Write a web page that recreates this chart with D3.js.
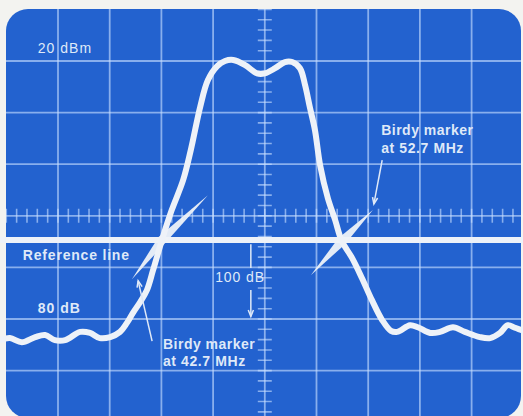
<!DOCTYPE html>
<html><head><meta charset="utf-8">
<script src="https://cdn.jsdelivr.net/npm/d3@7/dist/d3.min.js"></script>
<style>
html,body{margin:0;padding:0;background:#f3f3f0;}
svg{display:block;}
text{font-family:"Liberation Sans",Arial,sans-serif;fill:#dfe9f8;}
</style></head><body>
<svg id="c" width="523" height="416"></svg>
<script>
// Trace in screen divisions (x: 0..10 horizontal, y: 0..8 from top)
const traceX = [-0.12,0.07,0.30,0.56,0.75,0.94,1.14,1.43,1.62,1.81,2.01,2.20,2.33,2.45,2.59,2.72,2.84,3.01,3.20,3.42,3.57,3.75,3.90,4.08,4.23,4.39,4.62,4.85,5.00,5.20,5.39,5.53,5.68,5.78,5.87,5.97,6.07,6.22,6.36,6.49,6.69,6.88,7.07,7.27,7.44,7.56,7.81,7.96,8.20,8.39,8.64,8.87,9.16,9.36,9.55,9.70,9.84,10.05];
const traceY = [6.41,6.37,6.45,6.35,6.31,6.41,6.41,6.25,6.27,6.37,6.35,6.25,6.08,5.88,5.67,5.44,5.05,4.47,3.89,3.31,2.72,1.89,1.37,1.10,1.00,0.98,1.08,1.24,1.24,1.14,1.02,1.02,1.14,1.47,1.89,2.34,3.02,3.66,4.08,4.49,4.82,5.21,5.63,6.02,6.23,6.25,6.12,6.16,6.27,6.25,6.16,6.25,6.35,6.37,6.27,6.12,6.17,6.25];
// Reference line level (divisions)
const refLevel = 4.47;
// Birdy marker spikes: [x1,y1, xc,yc, x2,y2]
const birdies = [[2.43,5.23, 3.01,4.47, 3.90,3.60],[5.89,5.15, 6.49,4.49, 7.09,3.89]];
// Annotation arrows: [xFrom,yFrom,xTo,yTo]
const arrows = [[7.27,2.92, 7.11,3.77],[2.82,6.43, 2.55,5.26],[4.73,5.44, 4.73,5.95]];
const plainLines = [[4.73,4.55, 4.73,5.01]];
// Labels: [text, x, y(baseline), weight, spacing]
const labels = [
  ["20 dBm", 0.61, 0.84, "normal", 1],
  ["Reference line", 0.32, 4.86, "bold", 0.8],
  ["80 dB", 0.61, 5.88, "bold", 1],
  ["100 dB", 4.04, 5.28, "normal", 0.9],
  ["Birdy marker", 7.25, 2.43, "bold", 0.5],
  ["at 52.7 MHz", 7.25, 2.78, "bold", 0.6],
  ["Birdy marker", 3.03, 6.58, "bold", 0.5],
  ["at 42.7 MHz", 3.03, 6.91, "bold", 0.6]
];

const svg = d3.select("#c");
const x = d3.scaleLinear().domain([0,10]).range([6.3, 523.3]);
const y = d3.scaleLinear().domain([0,8]).range([9.4, 422.2]);

const defs = svg.append("defs");
defs.append("clipPath").attr("id","scr").append("rect")
  .attr("x",6).attr("y",9).attr("width",515).attr("height",409).attr("rx",22);

svg.append("rect").attr("x",6).attr("y",9).attr("width",515).attr("height",409).attr("rx",22)
  .attr("fill","#2362cf");

const g = svg.append("g").attr("clip-path","url(#scr)");
const gridCol = "rgba(200,222,255,0.62)";
g.selectAll(".vg").data(d3.range(1,10)).join("line")
  .attr("x1",d=>x(d)).attr("x2",d=>x(d)).attr("y1",0).attr("y2",416)
  .attr("stroke",gridCol).attr("stroke-width",1.8);
g.selectAll(".hg").data(d3.range(1,8)).join("line")
  .attr("y1",d=>y(d)).attr("y2",d=>y(d)).attr("x1",0).attr("x2",523)
  .attr("stroke",gridCol).attr("stroke-width",1.8);
// minor ticks on centre axes
const minorX = d3.range(0,50.01,1).map(i=>i*0.2);
g.selectAll(".tx").data(minorX).join("line")
  .attr("x1",d=>x(d)).attr("x2",d=>x(d)).attr("y1",y(4)-7).attr("y2",y(4)+7)
  .attr("stroke",gridCol).attr("stroke-width",1.6);
const minorY = d3.range(0,40.01,1).map(i=>i*0.2);
g.selectAll(".ty").data(minorY).join("line")
  .attr("y1",d=>y(d)).attr("y2",d=>y(d)).attr("x1",x(5)-7).attr("x2",x(5)+7)
  .attr("stroke",gridCol).attr("stroke-width",1.6);

const ink = "#eef2f8";
// reference line
svg.append("line").attr("x1",0).attr("x2",523).attr("y1",y(refLevel)).attr("y2",y(refLevel))
  .attr("stroke",ink).attr("stroke-width",6);

// birdy spikes
birdies.forEach(b=>{
  const [x1,y1,xc,yc,x2,y2] = b;
  const X1=x(x1),Y1=y(y1),XC=x(xc),YC=y(yc),X2=x(x2),Y2=y(y2);
  const dx=X2-X1, dy=Y2-Y1, L=Math.hypot(dx,dy);
  const nx=-dy/L*4.5, ny=dx/L*4.5;
  svg.append("path").attr("d",`M${X1},${Y1}L${XC+nx},${YC+ny}L${X2},${Y2}L${XC-nx},${YC-ny}Z`)
    .attr("fill",ink).attr("opacity",0.95);
});

// trace
const pts = traceX.map((v,i)=>[v,traceY[i]]);
svg.append("path").datum(pts)
  .attr("d", d3.line().x(d=>x(d[0])).y(d=>y(d[1])).curve(d3.curveCatmullRom.alpha(0.5)))
  .attr("fill","none").attr("stroke",ink).attr("stroke-width",6).attr("stroke-linejoin","round").attr("stroke-linecap","round");

// annotation arrows
const ann = "#dfe9f8";
arrows.forEach(a=>{
  const X1=x(a[0]),Y1=y(a[1]),X2=x(a[2]),Y2=y(a[3]);
  svg.append("line").attr("x1",X1).attr("y1",Y1).attr("x2",X2).attr("y2",Y2)
    .attr("stroke",ann).attr("stroke-width",1.5);
  const ang=Math.atan2(Y2-Y1,X2-X1), h=7, s=0.38;
  svg.append("path").attr("d",`M${X2-h*Math.cos(ang-s)},${Y2-h*Math.sin(ang-s)}L${X2},${Y2}L${X2-h*Math.cos(ang+s)},${Y2-h*Math.sin(ang+s)}`)
    .attr("fill","none").attr("stroke",ann).attr("stroke-width",1.5);
});
plainLines.forEach(a=>{
  svg.append("line").attr("x1",x(a[0])).attr("y1",y(a[1])).attr("x2",x(a[2])).attr("y2",y(a[3]))
    .attr("stroke",ann).attr("stroke-width",1.5);
});

svg.selectAll(".lab").data(labels).join("text")
  .attr("x",d=>x(d[1])).attr("y",d=>y(d[2]))
  .attr("font-size",14).attr("font-weight",d=>d[3]).attr("letter-spacing",d=>d[4])
  .text(d=>d[0]);
</script>
</body></html>
